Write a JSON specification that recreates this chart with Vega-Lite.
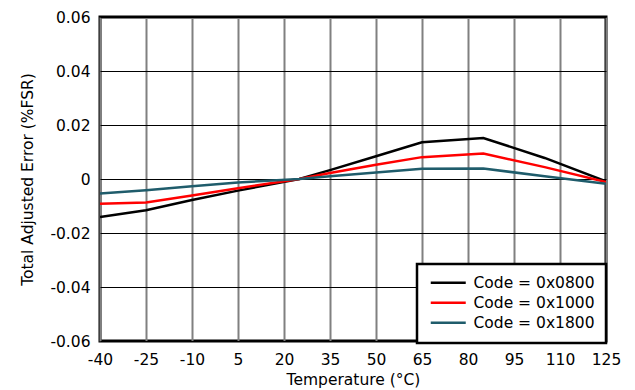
{
  "$schema": "https://vega.github.io/schema/vega-lite/v6.json",
  "width": 506,
  "height": 324,
  "autosize": {"type": "none"},
  "padding": {"left": 100, "top": 17, "right": 29, "bottom": 49},
  "background": "white",
  "config": {
    "font": "DejaVu Sans",
    "view": {"stroke": "black", "strokeWidth": 3},
    "axis": {"labelFont": "DejaVu Sans", "titleFont": "DejaVu Sans", "labelColor": "black", "titleColor": "black", "titleFontWeight": "normal", "domain": false, "ticks": false},
    "legend": {"labelFont": "DejaVu Sans"}
  },
  "data": {
    "values": [
      {"t": -40, "code": "Code = 0x0800", "err": -0.0141},
      {"t": -25, "code": "Code = 0x0800", "err": -0.0116},
      {"t": -10, "code": "Code = 0x0800", "err": -0.0078},
      {"t": 5, "code": "Code = 0x0800", "err": -0.0043},
      {"t": 25, "code": "Code = 0x0800", "err": 0.0},
      {"t": 35, "code": "Code = 0x0800", "err": 0.0033},
      {"t": 50, "code": "Code = 0x0800", "err": 0.0084},
      {"t": 65, "code": "Code = 0x0800", "err": 0.0136},
      {"t": 85, "code": "Code = 0x0800", "err": 0.0152},
      {"t": 105, "code": "Code = 0x0800", "err": 0.0078},
      {"t": 125, "code": "Code = 0x0800", "err": -0.0009},
      {"t": -40, "code": "Code = 0x1000", "err": -0.0092},
      {"t": -25, "code": "Code = 0x1000", "err": -0.0087},
      {"t": -10, "code": "Code = 0x1000", "err": -0.0061},
      {"t": 5, "code": "Code = 0x1000", "err": -0.0034},
      {"t": 25, "code": "Code = 0x1000", "err": 0.0},
      {"t": 35, "code": "Code = 0x1000", "err": 0.0022},
      {"t": 50, "code": "Code = 0x1000", "err": 0.0053},
      {"t": 65, "code": "Code = 0x1000", "err": 0.0081},
      {"t": 85, "code": "Code = 0x1000", "err": 0.0094},
      {"t": 105, "code": "Code = 0x1000", "err": 0.0044},
      {"t": 125, "code": "Code = 0x1000", "err": -0.0011},
      {"t": -40, "code": "Code = 0x1800", "err": -0.0054},
      {"t": -25, "code": "Code = 0x1800", "err": -0.0042},
      {"t": -10, "code": "Code = 0x1800", "err": -0.0027},
      {"t": 5, "code": "Code = 0x1800", "err": -0.0013},
      {"t": 25, "code": "Code = 0x1800", "err": 0.0},
      {"t": 35, "code": "Code = 0x1800", "err": 0.001},
      {"t": 50, "code": "Code = 0x1800", "err": 0.0024},
      {"t": 65, "code": "Code = 0x1800", "err": 0.0038},
      {"t": 85, "code": "Code = 0x1800", "err": 0.0039},
      {"t": 105, "code": "Code = 0x1800", "err": 0.001},
      {"t": 125, "code": "Code = 0x1800", "err": -0.0018}
    ]
  },
  "mark": {"type": "line", "strokeWidth": 2.5, "clip": true},
  "encoding": {
    "x": {
      "field": "t", "type": "quantitative",
      "scale": {"domain": [-40, 125], "nice": false, "zero": false},
      "axis": {
        "values": [-40, -25, -10, 5, 20, 35, 50, 65, 80, 95, 110, 125],
        "format": "d",
        "labelExpr": "replace(datum.label, '−', '-')",
        "labelFontSize": 15.5, "labelPadding": 11, "labelFlush": false,
        "grid": true, "gridColor": "#808080", "gridWidth": 2, "gridOpacity": 1,
        "title": "Temperature (°C)", "titleFontSize": 15.5,
        "titleY": 43, "titleBaseline": "alphabetic"
      }
    },
    "y": {
      "field": "err", "type": "quantitative",
      "scale": {"domain": [-0.06, 0.06], "nice": false},
      "axis": {
        "values": [-0.06, -0.04, -0.02, 0, 0.02, 0.04, 0.06],
        "format": ".2~f",
        "labelExpr": "replace(datum.label, '−', '-')",
        "labelFontSize": 15.5, "labelPadding": 10, "labelFlush": false,
        "grid": true, "gridColor": "black", "gridWidth": 1, "gridOpacity": 1,
        "title": "Total Adjusted Error (%FSR)", "titleFontSize": 15.5,
        "titleX": -68, "titleBaseline": "alphabetic"
      }
    },
    "color": {
      "field": "code", "type": "nominal",
      "scale": {"domain": ["Code = 0x0800", "Code = 0x1000", "Code = 0x1800"], "range": ["#000000", "#ff0000", "#1f5c6b"]},
      "legend": {
        "title": null,
        "orient": "none",
        "legendX": 317,
        "legendY": 247,
        "symbolType": "M-1,0L6,0",
        "symbolSize": 100,
        "symbolStrokeWidth": 2.5,
        "labelFontSize": 15.5,
        "labelColor": "black",
        "labelOffset": 30,
        "rowPadding": 3,
        "padding": 11,
        "strokeColor": "black",
        "fillColor": "white",
        "encode": {"legend": {"update": {"strokeWidth": {"value": 2.5}}}}
      }
    }
  }
}
